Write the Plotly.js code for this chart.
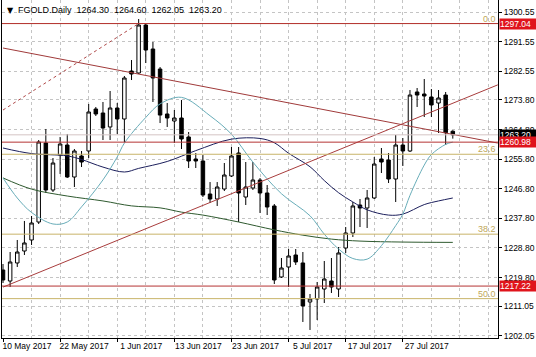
<!DOCTYPE html>
<html><head><meta charset="utf-8">
<script src="https://cdn.plot.ly/plotly-3.0.1.min.js"></script>
<style>html,body{margin:0;padding:0;background:#fff}#chart{width:536px;height:357px}</style>
</head><body><div id="chart"></div>
<script>
// ---- data ----
const dates = [
 "2017-05-10","2017-05-11","2017-05-12","2017-05-15","2017-05-16","2017-05-17","2017-05-18","2017-05-19",
 "2017-05-22","2017-05-23","2017-05-24","2017-05-25","2017-05-26","2017-05-29","2017-05-30","2017-05-31",
 "2017-06-01","2017-06-02","2017-06-05","2017-06-06","2017-06-07","2017-06-08","2017-06-09","2017-06-12",
 "2017-06-13","2017-06-14","2017-06-15","2017-06-16","2017-06-19","2017-06-20","2017-06-21","2017-06-22",
 "2017-06-23","2017-06-26","2017-06-27","2017-06-28","2017-06-29","2017-06-30","2017-07-03","2017-07-04",
 "2017-07-05","2017-07-06","2017-07-07","2017-07-10","2017-07-11","2017-07-12","2017-07-13","2017-07-14",
 "2017-07-17","2017-07-18","2017-07-19","2017-07-20","2017-07-21","2017-07-24","2017-07-25","2017-07-26",
 "2017-07-27","2017-07-28","2017-07-31","2017-08-01","2017-08-02","2017-08-03","2017-08-04","2017-08-07"];
const opens = [1222.11,1218.76,1224.24,1227.88,1231.23,1236.70,1260.72,1246.43,
 1257.07,1260.11,1250.38,1256.77,1258.29,1271.06,1269.84,1265.59,
 1271.36,1268.02,1282.61,1282.00,1296.60,1289.30,1283.21,1269.54,
 1267.41,1268.32,1262.55,1255.85,1255.25,1245.21,1243.69,1246.73,
 1250.69,1257.68,1244.30,1247.03,1249.47,1245.52,1241.57,1219.98,
 1223.02,1226.67,1224.24,1212.38,1213.29,1216.33,1218.76,1216.33,
 1228.79,1233.36,1241.87,1240.96,1244.00,1255.85,1255.55,1249.77,
 1260.11,1258.29,1276.23,1275.62,1274.71,1272.88,1275.31,1264.30];
const highs = [1223.93,1227.58,1231.23,1237.01,1238.52,1261.63,1264.98,1256.16,
 1262.55,1263.46,1258.89,1258.29,1272.58,1271.67,1273.19,1276.53,
 1272.88,1281.09,1285.95,1298.42,1297.20,1291.43,1283.82,1272.88,
 1270.75,1273.80,1264.06,1257.68,1257.07,1248.85,1248.85,1254.64,
 1259.50,1259.50,1254.94,1254.94,1250.08,1247.95,1242.17,1225.75,
 1228.49,1228.49,1227.58,1214.81,1218.46,1224.84,1225.75,1229.10,
 1235.18,1242.78,1243.69,1246.43,1256.46,1259.20,1257.68,1263.15,
 1262.24,1276.83,1277.44,1280.18,1277.14,1276.83,1276.23,1264.60];
const lows = [1218.15,1216.94,1223.02,1226.67,1229.71,1236.09,1245.52,1245.82,
 1251.30,1250.08,1247.34,1253.42,1256.16,1268.93,1261.63,1261.63,
 1263.46,1261.02,1279.87,1281.70,1285.04,1273.19,1266.79,1265.59,
 1260.72,1258.89,1253.12,1253.12,1244.30,1242.48,1241.57,1246.12,
 1250.38,1236.70,1241.87,1246.43,1239.44,1238.83,1217.85,1219.67,
 1216.94,1223.63,1206.30,1203.87,1206.90,1212.07,1215.12,1213.90,
 1227.28,1232.14,1235.18,1234.88,1243.69,1251.60,1248.55,1242.78,
 1253.73,1257.98,1271.67,1268.63,1268.63,1263.76,1260.11,1262.05];
const closes = [1219.07,1224.54,1227.58,1230.32,1236.40,1261.02,1246.43,1254.64,
 1260.42,1250.38,1258.29,1254.94,1270.15,1269.54,1265.28,1271.36,
 1268.02,1280.48,1281.70,1296.60,1288.99,1280.48,1269.22,1268.32,
 1268.32,1261.94,1255.25,1255.25,1244.91,1243.69,1247.34,1250.99,
 1256.77,1245.52,1247.34,1249.47,1245.52,1241.26,1219.07,1222.71,
 1226.36,1224.54,1211.17,1213.29,1216.94,1219.37,1216.94,1227.28,
 1233.36,1241.57,1240.96,1244.00,1254.33,1254.94,1249.77,1260.11,
 1258.29,1275.31,1275.31,1275.01,1272.28,1274.40,1263.86,1263.20];

// moving averages (bar index -> price)
const maFastIdx = [0,2,4,7,9,11,14,16,17,20,22,25,29,32,35,39,43,45,47,49,51,53,55,56,57,59,60,62,63];
const maFastVal = [1250.1,1244.0,1239.6,1236.1,1236.7,1241.3,1249.5,1256.5,1260.7,1268.5,1272.6,1274.6,1269.0,1263.4,1254.9,1245.3,1238.6,1233.0,1228.5,1225.6,1225.4,1229.5,1235.6,1239.1,1244.8,1254.0,1257.2,1260.3,1261.0];
const maMidIdx = [0,4,9,11,14,17,19,23,27,32,36,38,40,43,45,47,49,51,54,56,59,61,63];
const maMidVal = [1259.2,1257.5,1256.8,1255.7,1253.4,1251.9,1253.0,1255.1,1258.4,1261.9,1262.1,1260.8,1257.6,1253.5,1249.3,1245.6,1242.8,1240.4,1238.8,1239.1,1242.0,1243.1,1244.0];
const maSlowIdx = [0,4,9,14,18,22,25,28,33,38,42,46,50,56,63];
const maSlowVal = [1250.1,1246.7,1244.6,1243.1,1241.6,1241.0,1239.7,1238.8,1236.7,1234.3,1232.7,1231.5,1230.9,1230.6,1230.5];

// trend lines (bar index -> price)
const trendDownX = [0, 69.3], trendDownY = [1289.6, 1260.7];
const trendUpX = [0, 69.3],   trendUpY = [1216.9, 1278.4];
const fibDiagX = [0, 19],     fibDiagY = [1270.75, 1297.04];

// horizontal levels
const redLevels = [1297.04, 1260.98, 1217.22];
const fibLevels = [1297.04, 1257.3, 1233.0, 1213.4];
const fibLabels = ["0.0", "23.6", "38.2", "50.0"];
const bidPrice = 1263.20;

// axis ticks
const yTicks = [1300.55,1291.55,1282.55,1273.80,1264.80,1255.80,1246.80,1237.80,1228.80,1219.80,1211.05,1202.05];
const xTickDates = ["2017-05-10","2017-05-22","2017-06-01","2017-06-13","2017-06-23","2017-07-05","2017-07-17","2017-07-27"];
const xTickLabels = ["10 May 2017","22 May 2017","1 Jun 2017","13 Jun 2017","23 Jun 2017","5 Jul 2017","17 Jul 2017","27 Jul 2017"];
const titleText = "FGOLD.Daily";
const ohlcLast = ["1264.30","1264.60","1262.05","1263.20"];

// ---- drawing ----
const FONT = "Liberation Sans, Arial, sans-serif";
const FS = 8.5;
const barIdx = dates.map((d, i) => i);
const tickIdx = xTickDates.map(d => dates.indexOf(d));
const grid = "#c4c4c4";

const traces = [
  {type:"candlestick", x:barIdx, open:opens, high:highs, low:lows, close:closes,
   increasing:{line:{color:"#000",width:1}, fillcolor:"#fff"},
   decreasing:{line:{color:"#000",width:1}, fillcolor:"#000"},
   whiskerwidth:0, hoverinfo:"skip", showlegend:false},
  {type:"scatter", mode:"lines", x:maSlowIdx, y:maSlowVal, line:{color:"#2f5a2f",width:1,shape:"spline"}, hoverinfo:"skip", showlegend:false},
  {type:"scatter", mode:"lines", x:maMidIdx, y:maMidVal, line:{color:"#1c1f5c",width:1,shape:"spline"}, hoverinfo:"skip", showlegend:false},
  {type:"scatter", mode:"lines", x:maFastIdx, y:maFastVal, line:{color:"#68adb9",width:1,shape:"spline"}, hoverinfo:"skip", showlegend:false},
  {type:"scatter", mode:"lines", x:trendDownX, y:trendDownY, line:{color:"#a03a3a",width:1}, hoverinfo:"skip", showlegend:false},
  {type:"scatter", mode:"lines", x:trendUpX, y:trendUpY, line:{color:"#a83c3c",width:1}, hoverinfo:"skip", showlegend:false},
  {type:"scatter", mode:"lines", x:fibDiagX, y:fibDiagY, line:{color:"#b04848",width:1,dash:"3px,3px"}, hoverinfo:"skip", showlegend:false}
];

const shapes = [];
fibLevels.forEach(v => shapes.push({type:"line", xref:"paper", x0:0, x1:1, yref:"y", y0:v, y1:v, line:{color:"#c8b46a",width:1}, layer:"above"}));
shapes.push({type:"line", xref:"paper", x0:0, x1:1, yref:"y", y0:bidPrice, y1:bidPrice, line:{color:"#d4c4c4",width:1}, layer:"above"});
redLevels.forEach(v => shapes.push({type:"line", xref:"paper", x0:0, x1:1, yref:"y", y0:v, y1:v, line:{color:"#b53434",width:1}, layer:"above"}));

const annotations = [];
fibLevels.forEach((v, i) => annotations.push({xref:"paper", x:1, xanchor:"right", yref:"y", y:v, yanchor:"bottom",
  text:fibLabels[i], showarrow:false, font:{family:FONT, size:FS+0.5, color:"#c0a85a"}, xshift:0, yshift:-2}));
annotations.push({xref:"paper", x:1, xanchor:"left", yref:"y", y:bidPrice, yanchor:"middle", text:bidPrice.toFixed(2),
  showarrow:false, bgcolor:"#000", font:{family:FONT,size:FS,color:"#fff"}, borderpad:0, width:37, align:"left", xshift:1});
redLevels.forEach(v => annotations.push({xref:"paper", x:1, xanchor:"left", yref:"y", y:v, yanchor:"middle", text:v.toFixed(2),
  showarrow:false, bgcolor:"#e0141c", font:{family:FONT,size:FS,color:"#fff"}, borderpad:0, width:37, align:"left", xshift:1}));
annotations.push({xref:"paper", x:0, xanchor:"left", yref:"paper", y:1, yanchor:"top", showarrow:false,
  text:"▼", font:{family:"DejaVu Sans",size:8,color:"#000"}, xshift:3, yshift:-4});
annotations.push({xref:"paper", x:0, xanchor:"left", yref:"paper", y:1, yanchor:"top", showarrow:false,
  text:titleText + "\u00a0\u00a0" + ohlcLast.join("\u00a0\u00a0"),
  font:{family:FONT,size:FS+0.5,color:"#000"}, xshift:14, yshift:-3});

const layout = {
  width:536, height:357, margin:{l:2, r:38, t:0, b:19},
  paper_bgcolor:"#fff", plot_bgcolor:"#fff", showlegend:false, hovermode:false,
  xaxis:{range:[-0.14, 69.33], type:"linear", rangeslider:{visible:false}, zeroline:false,
    tickmode:"array", tickvals:tickIdx, ticktext:xTickLabels, ticks:"outside", ticklen:3, tickcolor:"#000",
    tickangle:0, ticklabelshift:24, ticklabelstandoff:-3, ticklabeloverflow:"allow",
    tickfont:{family:FONT,size:FS,color:"#000"},
    showgrid:true, gridcolor:grid, griddash:"3px,3px", gridwidth:1,
    minor:{tickmode:"linear", tick0:0, dtick:4, showgrid:true, gridcolor:grid, griddash:"3px,3px", ticks:""},
    showline:true, linecolor:"#000", linewidth:1},
  yaxis:{range:[1201.43, 1304.20], side:"right", zeroline:false,
    tickmode:"array", tickvals:yTicks, ticktext:yTicks.map(v => v.toFixed(2)), ticks:"outside", ticklen:3, tickcolor:"#000",
    tickfont:{family:FONT,size:FS,color:"#000"},
    showgrid:true, gridcolor:grid, griddash:"3px,3px", gridwidth:1,
    showline:true, linecolor:"#000", linewidth:1, mirror:true},
  shapes:shapes, annotations:annotations
};
Plotly.newPlot("chart", traces, layout, {staticPlot:true, displayModeBar:false});
</script></body></html>
